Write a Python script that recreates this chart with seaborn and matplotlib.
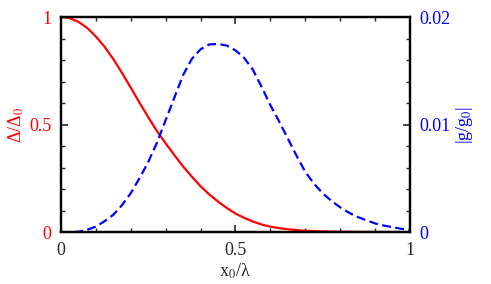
import matplotlib
matplotlib.use("Agg")
import matplotlib.pyplot as plt
import seaborn as sns
import numpy as np
from matplotlib.ticker import MultipleLocator

# values
x0 = [0.0, 0.025, 0.05, 0.075, 0.1, 0.125, 0.15, 0.175, 0.2, 0.225,
      0.25, 0.275, 0.3, 0.325, 0.35, 0.375, 0.4, 0.425, 0.45, 0.475,
      0.5, 0.525, 0.55, 0.575, 0.6, 0.625, 0.65, 0.675, 0.7, 0.725,
      0.75, 0.775, 0.8, 0.825, 0.85, 0.875, 0.9, 0.925, 0.95, 0.975, 1.0]
delta = [1.0, 0.995, 0.978, 0.95, 0.91, 0.862, 0.805, 0.74, 0.672, 0.602,
         0.535, 0.47, 0.413, 0.358, 0.305, 0.258, 0.213, 0.175, 0.142, 0.112,
         0.086, 0.066, 0.049, 0.035, 0.025, 0.018, 0.013, 0.009, 0.006, 0.0045,
         0.003, 0.002, 0.0015, 0.001, 0.0007, 0.0005, 0.0003, 0.0002, 0.0001, 0.00005, 0.0]
g = [0.0, 0.0, 0.00003, 0.0002, 0.0005, 0.001, 0.0016, 0.0025, 0.0036, 0.005,
     0.0065, 0.0083, 0.0104, 0.0125, 0.0146, 0.0161, 0.0170, 0.01745, 0.0175, 0.01735,
     0.0169, 0.0162, 0.0151, 0.0135, 0.0118, 0.0103, 0.0087, 0.0071, 0.0056, 0.0045,
     0.0036, 0.0029, 0.0023, 0.0018, 0.0014, 0.0011, 0.0008, 0.0006, 0.00045, 0.0003, 0.0002]

sns.set_style("ticks")
plt.rcParams['font.family'] = ['Liberation Serif', 'DejaVu Serif']
plt.rcParams['mathtext.fontset'] = 'stix'

fig = plt.figure(figsize=(4.91, 2.84), dpi=100)
ax = fig.add_axes([0.124, 0.183, 0.711, 0.757])
ax2 = ax.twinx()

sns.lineplot(x=x0, y=delta, ax=ax, color='red', linewidth=1.6)
sns.lineplot(x=x0, y=g, ax=ax2, color='blue', linewidth=1.6, linestyle=(0, (4, 2)))

ax.set_xlim(0, 1)
ax.set_ylim(0, 1)
ax2.set_ylim(0, 0.02)

ax.xaxis.set_minor_locator(MultipleLocator(0.1))
ax.yaxis.set_minor_locator(MultipleLocator(0.1))
ax2.yaxis.set_minor_locator(MultipleLocator(0.002))

ax.set_xticks([0, 0.5, 1])
ax.set_xticklabels(['0', '0.5', '1'])
ax.set_yticks([0, 0.5, 1])
ax.set_yticklabels(['0', '0.5', '1'])
ax2.set_yticks([0, 0.01, 0.02])
ax2.set_yticklabels(['0', '0.01', '0.02'])

for a in (ax, ax2):
    a.tick_params(which='major', direction='in', length=5, width=1.2, labelsize=13, top=True)
    a.tick_params(which='minor', direction='in', length=3, width=1.0, top=True)
    for s in a.spines.values():
        s.set_linewidth(1.6)
        s.set_color('black')
ax.tick_params(axis='y', which='both', right=False, labelcolor='red', pad=7)
ax.tick_params(axis='x', pad=7)
ax2.tick_params(axis='y', which='both', left=False, labelcolor='blue', pad=7)

ax.set_xlabel('x$_0$/λ', fontsize=13, labelpad=2)
ax.set_ylabel('Δ/Δ$_0$', fontsize=13, color='red', labelpad=2)
ax2.set_ylabel('|g/g$_0$|', fontsize=13, color='blue', labelpad=2)

fig.savefig('out.png', dpi=100)
